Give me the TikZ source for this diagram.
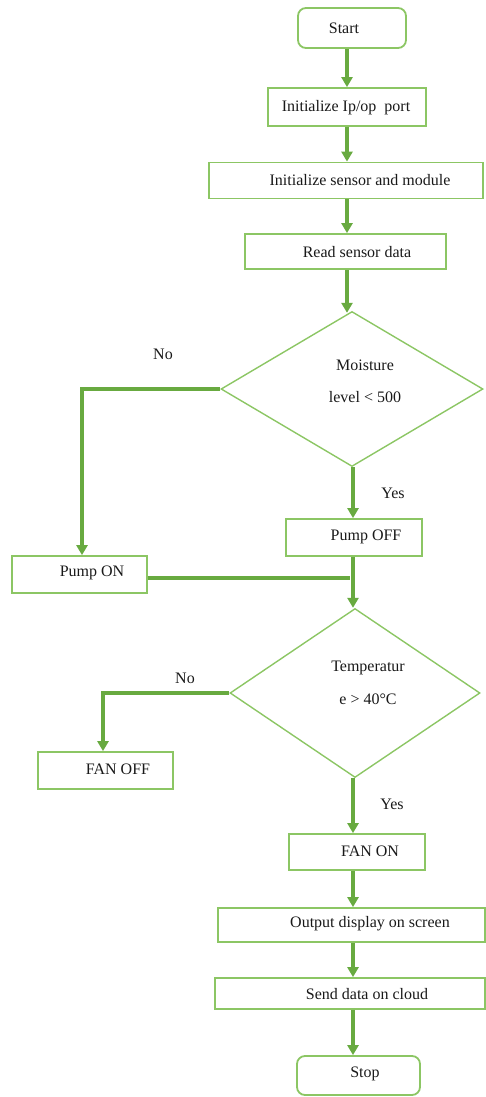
\documentclass[tikz,border=0pt]{standalone}
\usepackage{fontspec}
\setmainfont{Liberation Serif}
\usetikzlibrary{shapes.geometric,arrows.meta}
\definecolor{boxgreen}{RGB}{140,198,100}
\definecolor{arrgreen}{RGB}{104,170,64}
\begin{document}
\begin{tikzpicture}[x=1pt,y=-1pt,
  box/.style={draw=boxgreen,line width=1.8pt,inner sep=0pt,rectangle},
  term/.style={box,rounded corners=8pt},
  dec/.style={draw=boxgreen,line width=1.4pt,diamond,inner sep=0pt},
  txt/.style={inner sep=0pt,font=\fontsize{16}{19}\selectfont,text=black!90},
  arr/.style={draw=arrgreen,line width=3.2pt,-{Triangle[length=10pt,width=11pt]}},
  ln/.style={draw=arrgreen,line width=3.4pt}]
\useasboundingbox (0,0) rectangle (486,1097);
% boxes
\node[term,minimum width=108pt,minimum height=40pt] (start) at (352,28) {};
\node[box,minimum width=158pt,minimum height=38pt] (init1) at (347,107) {};
\node[box,minimum width=274pt,minimum height=36pt] (init2) at (346,180.5) {};
\node[box,minimum width=201pt,minimum height=35pt] (read) at (345.5,251.5) {};
\node[dec,minimum width=262pt,minimum height=155pt] (moist) at (352,389) {};
\node[box,minimum width=136pt,minimum height=37pt] (pumpoff) at (354,537.5) {};
\node[box,minimum width=135pt,minimum height=37pt] (pumpon) at (79.5,574.5) {};
\node[dec,minimum width=250pt,minimum height=169pt] (temp) at (355,693) {};
\node[box,minimum width=135pt,minimum height=37pt] (fanoff) at (105.5,770.5) {};
\node[box,minimum width=136pt,minimum height=36pt] (fanon) at (357,852) {};
\node[box,minimum width=267pt,minimum height=34pt] (output) at (351.5,925) {};
\node[box,minimum width=270pt,minimum height=31pt] (send) at (350,993.5) {};
\node[term,minimum width=123pt,minimum height=39pt] (stop) at (358.5,1075.5) {};
% texts
\node[txt] (tstart) at (344,28) {Start};
\node[txt] (tinit1) at (346,108) {Initialize Ip/op\ \ port};
\node[txt] (tinit2) at (360,180) {Initialize sensor and module};
\node[txt] (tread) at (357,252) {Read sensor data};
\node[txt] (tm1) at (365,365) {Moisture};
\node[txt] (tm2) at (365,397) {level {\textless} 500};
\node[txt] (tpoff) at (366,537) {Pump OFF};
\node[txt] (tpon) at (92,573) {Pump ON};
\node[txt] (tt1) at (368,668) {Temperatur};
\node[txt] (tt2) at (368,699) {e {\textgreater} 40°C};
\node[txt] (tfoff) at (118,769) {FAN OFF};
\node[txt] (tfon) at (370,851) {FAN ON};
\node[txt] (tout) at (370,924) {Output display on screen};
\node[txt] (tsend) at (367,994) {Send data on cloud};
\node[txt] (tstop) at (365,1074) {Stop};
\node[txt] (no1) at (163,354) {No};
\node[txt] (yes1) at (393,493) {Yes};
\node[txt] (no2) at (185,678) {No};
\node[txt] (yes2) at (392,804) {Yes};
% guide coordinates
\coordinate (c1) at (347,0);
\coordinate (c2) at (353,0);
\coordinate (cl1) at (82,0);
\coordinate (cl2) at (103,0);
\coordinate (m1) at (350,578);
% connectors
\draw[arr] (start.south -| c1) -- (init1.north -| c1);
\draw[arr] (init1.south -| c1) -- (init2.north -| c1);
\draw[arr] (init2.south -| c1) -- (read.north -| c1);
\draw[arr] (read.south -| c1) -- ([yshift=-2pt]moist.north -| c1);
\draw[arr] (moist.west) -- (moist.west -| cl1) -- (pumpon.north -| cl1);
\draw[arr] (moist.south -| c2) -- (pumpoff.north -| c2);
\draw[ln] (pumpon.east |- m1) -- (m1);
\draw[arr] (pumpoff.south -| c2) -- (temp.north -| c2);
\draw[arr] (temp.west) -- (temp.west -| cl2) -- (fanoff.north -| cl2);
\draw[arr] (temp.south -| c2) -- (fanon.north -| c2);
\draw[arr] (fanon.south -| c2) -- (output.north -| c2);
\draw[arr] (output.south -| c2) -- (send.north -| c2);
\draw[arr] (send.south -| c2) -- (stop.north -| c2);
\end{tikzpicture}
\end{document}
